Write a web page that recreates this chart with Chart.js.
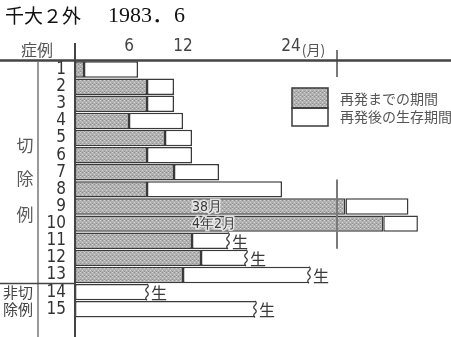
<!DOCTYPE html>
<html>
<head>
<meta charset="utf-8">
<script src="https://cdn.jsdelivr.net/npm/chart.js@4/dist/chart.umd.min.js"></script>
<style>
  html, body { margin: 0; padding: 0; background: #fff; }
  canvas { display: block; }
</style>
</head>
<body>
<canvas id="c" width="451" height="337"></canvas>
<script>
// Cases, one row each (1-13 resected, 14-15 not resected)
const caseLabels = ['1', '2', '3', '4', '5', '6', '7', '8', '9', '10', '11', '12', '13', '14', '15'];
// Months from operation to recurrence (none for the non-resected cases)
const monthsToRecurrence = [1, 8, 8, 6, 10, 8, 11, 8, 38, 50, 13, 14, 12, null, null];
// Months of survival after recurrence
const monthsAfterRecurrence = [6, 3, 3, 6, 3, 5, 5, 15, 20, 11, 4, 5, 14, 8, 20];
// Cases still alive at the time of the report
const stillAlive = [false, false, false, false, false, false, false, false, false, false, true, true, true, true, true];
// Notes written on the long recurrence bars
const barNotes = ['', '', '', '', '', '', '', '', '38月', '4年2月', '', '', '', '', ''];
const tickMonths = [6, 12, 24];
const seriesNames = ['再発までの期間', '再発後の生存期間'];
const groupNames = ['切', '除', '例'];
const groupNamesOther = ['非切', '除例'];

// The month axis is broken: beyond BREAK_AT it jumps to RESUME_AT and runs compressed.
const BREAK_AT = 29, RESUME_AT = 35, SQUEEZE = 0.35;
function axisMonths(m) {
  if (m == null) return null;
  return m <= BREAK_AT ? m : BREAK_AT + Math.max(0, m - RESUME_AT) * SQUEEZE;
}

const grayStart = monthsToRecurrence.map(v => axisMonths(v));
const whiteSpan = monthsAfterRecurrence.map((v, i) => {
  const r = monthsToRecurrence[i] || 0;
  return axisMonths(r + v) - axisMonths(r);
});

const canvas = document.getElementById('c');
const ctx = canvas.getContext('2d');

// Stippled gray fill, like a screen tone
function stipple() {
  const t = document.createElement('canvas');
  t.width = 4; t.height = 4;
  const g = t.getContext('2d');
  g.fillStyle = '#b0b0b0'; g.fillRect(0, 0, 4, 4);
  g.fillStyle = '#d4d4d4'; g.fillRect(0, 0, 1, 1); g.fillRect(2, 2, 1, 1);
  g.fillStyle = '#929292'; g.fillRect(2, 0, 1, 1); g.fillRect(0, 3, 1, 1);
  return ctx.createPattern(t, 'repeat');
}
const grayFill = stipple();

const INK = '#3a3a3a';
const SOFT = '#555';
const NARROW = '"Liberation Sans Narrow", "DejaVu Sans Condensed", "Liberation Sans", sans-serif';
const JP = '"Noto Sans CJK JP", sans-serif';

const decor = {
  id: 'decor',
  afterDatasetsDraw(chart) {
    const c = chart.ctx;
    const xs = chart.scales.x, ys = chart.scales.y;
    const area = chart.chartArea;
    const whiteMeta = chart.getDatasetMeta(1);

    c.save();
    // wavy ends on cases still alive, with 生
    whiteMeta.data.forEach((el, i) => {
      if (!stillAlive[i]) return;
      const x = el.x, top = el.y - el.height / 2, bot = el.y + el.height / 2;
      c.strokeStyle = INK; c.lineWidth = 1.3;
      c.beginPath();
      c.moveTo(x, top);
      const n = 4, step = (bot - top) / n;
      for (let k = 0; k < n; k++) {
        const y0 = top + k * step;
        c.quadraticCurveTo(x + (k % 2 ? -2.5 : 2.5), y0 + step / 2, x, y0 + step);
      }
      c.stroke();
      c.fillStyle = INK;
      c.font = '16px ' + JP;
      c.textAlign = 'left'; c.textBaseline = 'middle';
      c.fillText('生', x + 4, el.y + 1);
    });

    // notes on the long bars
    const grayMeta = chart.getDatasetMeta(0);
    barNotes.forEach((t, i) => {
      if (!t) return;
      const el = grayMeta.data[i];
      c.font = '14px ' + NARROW;
      c.textAlign = 'left'; c.textBaseline = 'middle';
      c.lineWidth = 3; c.strokeStyle = 'rgba(235,235,235,0.9)';
      const tx = xs.getPixelForValue(13);
      c.strokeText(t, tx, el.y + 1);
      c.fillStyle = INK;
      c.fillText(t, tx, el.y + 1);
    });

    // axis break marks
    const bx = xs.getPixelForValue(BREAK_AT) + 1;
    c.strokeStyle = '#7a7a7a'; c.lineWidth = 2;
    c.beginPath();
    c.moveTo(bx, 50); c.lineTo(bx, area.top + 16);
    c.moveTo(bx, ys.getPixelForValue(7) - 10); c.lineTo(bx, ys.getPixelForValue(10) + 8);
    c.stroke();

    // rules: month axis, case axis, column divider, group divider
    c.strokeStyle = '#444';
    c.lineWidth = 2.5;
    c.beginPath();
    c.moveTo(0, area.top - 0.5); c.lineTo(chart.width, area.top - 0.5);
    c.stroke();
    c.lineWidth = 2;
    c.beginPath();
    c.moveTo(area.left, 43); c.lineTo(area.left, chart.height);
    c.stroke();
    c.strokeStyle = '#777'; c.lineWidth = 1.5;
    c.beginPath();
    c.moveTo(38, area.top); c.lineTo(38, chart.height);
    c.stroke();
    c.strokeStyle = '#444';
    c.beginPath();
    const gy = ys.getPixelForValue(12.5);
    c.moveTo(0, gy); c.lineTo(area.left, gy);
    c.stroke();

    // unit after the 24 tick
    c.font = '17px ' + NARROW;
    const w24 = c.measureText('24').width;
    c.font = '14px ' + JP;
    c.fillStyle = SOFT;
    c.textAlign = 'left'; c.textBaseline = 'middle';
    c.fillText('(月)', xs.getPixelForValue(24) + w24 / 2 + 1, 50);

    // header of the case column
    c.font = '16px ' + JP;
    c.textAlign = 'center';
    c.fillText('症例', 37, 50);

    // group names
    c.fillStyle = '#5a5a5a';
    c.font = '17px ' + JP;
    const gyPos = [146, 179, 215];
    groupNames.forEach((t, i) => c.fillText(t, 25, gyPos[i]));
    c.fillStyle = '#444';
    c.font = '15px ' + JP;
    c.fillText(groupNamesOther[0], 18, ys.getPixelForValue(13));
    c.fillText(groupNamesOther[1], 18, ys.getPixelForValue(14));

    // legend
    c.fillStyle = grayFill; c.fillRect(292, 88, 36, 20);
    c.fillStyle = '#fff'; c.fillRect(292, 108, 36, 18);
    c.strokeStyle = INK; c.lineWidth = 1.5;
    c.strokeRect(292, 88, 36, 20);
    c.strokeRect(292, 108, 36, 18);
    c.fillStyle = SOFT;
    c.font = '14px ' + JP;
    c.textAlign = 'left';
    c.fillText(chart.data.datasets[0].label, 340, 99);
    c.fillText(chart.data.datasets[1].label, 340, 117);

    // title
    c.fillStyle = '#111';
    c.font = '19px ' + JP;
    c.fillText('千大２外', 5, 16);
    c.font = '22px "Liberation Serif", ' + JP;
    c.fillText('1983．6', 108, 16);
    c.restore();
  }
};

new Chart(canvas, {
  type: 'bar',
  data: {
    labels: caseLabels,
    datasets: [
      {
        label: seriesNames[0],
        data: grayStart,
        backgroundColor: grayFill,
        borderColor: INK,
        borderWidth: 1.5,
        borderSkipped: false,
        barPercentage: 0.96,
        categoryPercentage: 1
      },
      {
        label: seriesNames[1],
        data: whiteSpan,
        backgroundColor: '#ffffff',
        borderColor: INK,
        borderWidth: 1.5,
        borderSkipped: c => stillAlive[c.dataIndex] ? 'right' : false,
        barPercentage: 0.96,
        categoryPercentage: 1
      }
    ]
  },
  options: {
    indexAxis: 'y',
    responsive: false,
    animation: false,
    devicePixelRatio: 1,
    layout: { padding: { left: 0, right: 0, top: 0, bottom: 3 } },
    plugins: { legend: { display: false }, tooltip: { enabled: false } },
    scales: {
      x: {
        position: 'top',
        stacked: true,
        min: 0,
        max: 376 / 9,
        grid: { display: false, drawTicks: false },
        border: { display: false },
        afterFit: s => { s.height = 61; },
        afterBuildTicks: s => { s.ticks = tickMonths.map(m => ({ value: axisMonths(m) })); },
        ticks: {
          padding: 4,
          color: '#444',
          font: { family: NARROW, size: 17 },
          callback: (v, i) => String(tickMonths[i])
        }
      },
      y: {
        stacked: true,
        grid: { display: false, drawTicks: false },
        border: { display: false },
        afterFit: s => { s.width = 75; },
        ticks: {
          autoSkip: false,
          padding: 9,
          color: '#333',
          font: { family: NARROW, size: 17 }
        }
      }
    }
  },
  plugins: [decor]
});
</script>
</body>
</html>
